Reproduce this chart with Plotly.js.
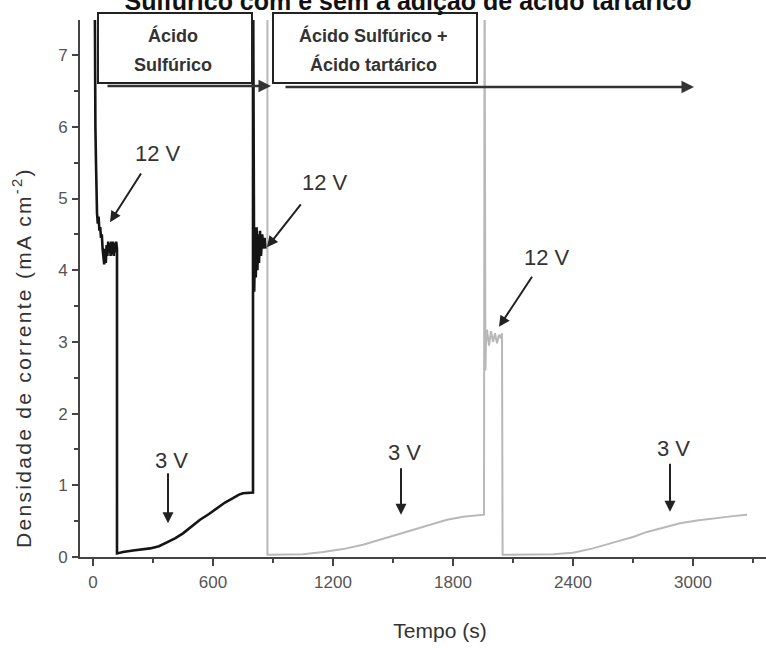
<!DOCTYPE html>
<html>
<head>
<meta charset="utf-8">
<script src="https://cdn.plot.ly/plotly-3.0.1.min.js"></script>
<style>
  html, body { margin: 0; padding: 0; overflow: hidden; background: #fff; }
  #chart { width: 800px; height: 648px; }
</style>
</head>
<body>
<div id="chart"></div>
<script>
// ---- Data ----
// Black trace: ácido sulfúrico (12 V -> 3 V -> 12 V)
const blackTime = [8, 10, 12, 15, 18, 20, 24, 28, 32, 36, 40, 44, 48, 52, 56, 60, 64, 68, 72, 76, 80, 84, 88, 92, 96, 100, 104, 108, 112, 116, 120,
  120, 150, 200, 250, 285, 330, 370, 410, 450, 490, 535, 580, 620, 660, 700, 730, 750, 775, 800,
  800, 802, 806, 810, 814, 818, 822, 826, 830, 835, 840, 846, 852, 858, 862];
const blackValue = [8.5, 6.5, 6.0, 5.5, 5.0, 4.8, 4.65, 4.75, 4.55, 4.6, 4.45, 4.5, 4.3, 4.15, 4.08, 4.3, 4.1, 4.35, 4.2, 4.4, 4.25, 4.38, 4.2, 4.4, 4.22, 4.4, 4.2, 4.38, 4.25, 4.4, 4.3,
  0.05, 0.07, 0.09, 0.11, 0.12, 0.15, 0.2, 0.26, 0.33, 0.42, 0.52, 0.6, 0.68, 0.76, 0.82, 0.87, 0.89, 0.9, 0.9,
  8.5, 4.5, 3.7, 4.4, 3.9, 4.6, 4.0, 4.5, 4.1, 4.55, 4.2, 4.5, 4.3, 4.45, 4.3];

// Gray trace: ácido sulfúrico + ácido tartárico
const grayTime = [872, 872, 880, 950, 1050, 1150, 1250, 1350, 1435, 1535, 1600, 1700, 1770, 1850, 1955,
  1958, 1962, 1965, 1970, 1980, 1990, 2000, 2010, 2020, 2030, 2040, 2045,
  2048, 2060, 2200, 2300, 2400, 2500, 2600, 2700, 2770, 2850, 2935, 3020, 3100, 3200, 3270];
const grayValue = [8.5, 0.03, 0.03, 0.03, 0.04, 0.07, 0.11, 0.17, 0.24, 0.33, 0.38, 0.46, 0.52, 0.56, 0.59,
  8.5, 2.6, 3.0, 3.17, 2.95, 3.15, 3.0, 3.12, 2.98, 3.1, 3.05, 3.12,
  0.03, 0.03, 0.03, 0.04, 0.06, 0.12, 0.2, 0.28, 0.35, 0.41, 0.47, 0.51, 0.54, 0.57, 0.59];

// Voltage labels: text position and arrow tail/head (data units)
const voltLabels = ["12 V", "12 V", "12 V", "3 V", "3 V", "3 V"];
const labelTime  = [325, 1160, 2270, 390, 1555, 2900];
const labelValue = [5.63, 5.23, 4.18, 1.35, 1.46, 1.52];
const tailTime   = [245, 1045, 2200, 375, 1540, 2885];
const tailValue  = [5.37, 4.94, 3.93, 1.19, 1.26, 1.32];
const headTime   = [85, 870, 2030, 375, 1540, 2885];
const headValue  = [4.67, 4.32, 3.21, 0.47, 0.59, 0.63];

// Box labels
const boxLines = [["Ácido", "Sulfúrico"], ["Ácido Sulfúrico +", "Ácido tartárico"]];

const xTickVals = [0, 600, 1200, 1800, 2400, 3000];
const yTickVals = [0, 1, 2, 3, 4, 5, 6, 7];

// ---- geometry helpers (pixel -> paper), for decorations only ----
const W = 800, H = 648, ML = 80, MR = 0, MT = 20, MB = 91;
const PW = W - ML - MR, PH = H - MT - MB;
const px = x => (x - ML) / PW;
const py = y => (H - MB - y) / PH;

const traces = [
  { x: grayTime, y: grayValue, type: 'scatter', mode: 'lines',
    line: { color: '#b8b8b8', width: 2 }, hoverinfo: 'skip', showlegend: false },
  { x: blackTime, y: blackValue, type: 'scatter', mode: 'lines',
    line: { color: '#151515', width: 2.6 }, hoverinfo: 'skip', showlegend: false }
];

const annotations = [];
for (let i = 0; i < voltLabels.length; i++) {
  annotations.push({ x: labelTime[i], y: labelValue[i], xref: 'x', yref: 'y', text: voltLabels[i],
    xanchor: 'center', yanchor: 'middle',
    showarrow: false, font: { family: 'Liberation Sans, Arial, sans-serif', size: 22, color: '#333' } });
  annotations.push({ x: headTime[i], y: headValue[i], xref: 'x', yref: 'y',
    ax: tailTime[i], ay: tailValue[i], axref: 'x', ayref: 'y', text: '',
    showarrow: true, arrowhead: 2, arrowsize: 1.1, arrowwidth: 2, arrowcolor: '#222' });
}
// box texts
const boxCenters = [[173, 36, 65], [373, 36, 65]];
for (let b = 0; b < 2; b++) {
  for (let l = 0; l < 2; l++) {
    annotations.push({ x: px(boxCenters[b][0]), y: py(boxCenters[b][1 + l]), xref: 'paper', yref: 'paper',
      xanchor: 'center', yanchor: 'middle',
      text: '<b>' + boxLines[b][l] + '</b>', showarrow: false,
      font: { family: 'Liberation Sans Narrow, Liberation Sans, Arial, sans-serif', size: 18, color: '#333' } });
  }
}
// horizontal arrows under the boxes
annotations.push({ x: px(271), y: py(86), xref: 'paper', yref: 'paper', ax: -165, ay: 0, text: '',
  showarrow: true, arrowhead: 2, arrowsize: 1, arrowwidth: 2.5, arrowcolor: '#333' });
annotations.push({ x: px(694), y: py(87), xref: 'paper', yref: 'paper', ax: -410, ay: 0, text: '',
  showarrow: true, arrowhead: 2, arrowsize: 1, arrowwidth: 2.5, arrowcolor: '#333' });
// y axis title
annotations.push({ x: px(22), y: py(358), xref: 'paper', yref: 'paper', textangle: -90,
  xanchor: 'center', yanchor: 'middle',
  text: '<span style="letter-spacing:2.3px">Densidade de corrente (mA cm<sup>-2</sup>)</span>',
  showarrow: false, font: { family: 'Liberation Sans, Arial, sans-serif', size: 21, color: '#333' } });

const shapes = [
  { type: 'rect', xref: 'paper', yref: 'paper', x0: px(98), x1: px(252), y0: py(83), y1: py(13),
    line: { color: '#222', width: 2 }, fillcolor: '#fff', layer: 'above' },
  { type: 'rect', xref: 'paper', yref: 'paper', x0: px(273), x1: px(477), y0: py(83), y1: py(13),
    line: { color: '#222', width: 2 }, fillcolor: '#fff', layer: 'above' }
];

const layout = {
  width: W, height: H,
  margin: { l: ML, r: MR, t: MT, b: MB, pad: 0 },
  paper_bgcolor: '#fff', plot_bgcolor: '#fff',
  font: { family: 'Liberation Sans, Arial, sans-serif', color: '#555' },
  title: { text: '<b>Sulfúrico com e sem a adição de ácido tartárico</b>',
    x: 408 / W, xanchor: 'center', xref: 'container', y: 1 - 1 / H, yanchor: 'middle', yref: 'container',
    font: { size: 25, color: '#111', family: 'Liberation Sans, Arial, sans-serif' } },
  xaxis: {
    range: [-65, 3535], tickvals: xTickVals, ticks: 'outside', ticklen: 7, tickwidth: 2, tickcolor: '#444',
    showline: true, linecolor: '#444', linewidth: 2, showgrid: false, zeroline: false,
    tickfont: { size: 17, color: '#555' }, ticklabelstandoff: 2,
    minor: { dtick: 300, tick0: 0, ticks: 'outside', ticklen: 4, tickwidth: 2, tickcolor: '#444', showgrid: false },
    title: { text: 'Tempo (s)', font: { size: 21, color: '#333' }, standoff: 32 },
    fixedrange: true
  },
  yaxis: {
    range: [0, 7.49], tickvals: yTickVals, ticks: 'outside', ticklen: 6, tickwidth: 2, tickcolor: '#444',
    showline: true, linecolor: '#444', linewidth: 2, showgrid: false, zeroline: false,
    tickfont: { size: 17, color: '#555' }, ticklabelstandoff: 1,
    minor: { dtick: 0.5, tick0: 0, ticks: 'outside', ticklen: 4, tickwidth: 2, tickcolor: '#444', showgrid: false },
    fixedrange: true
  },
  annotations: annotations,
  shapes: shapes,
  showlegend: false
};

Plotly.newPlot('chart', traces, layout, { staticPlot: true, displayModeBar: false });
</script>
</body>
</html>
